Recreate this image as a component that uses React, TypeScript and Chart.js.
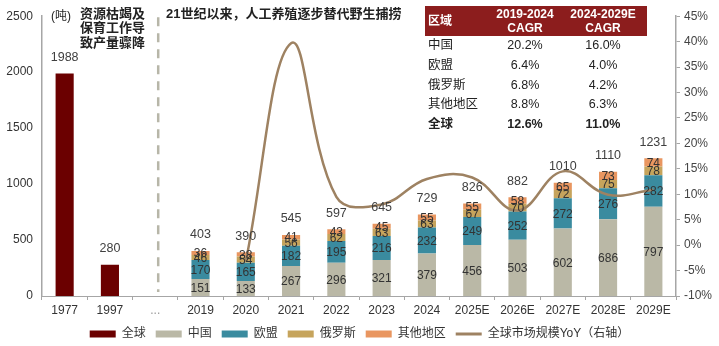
import React, { useEffect, useRef } from 'react';
import { Chart, registerables } from 'chart.js';
Chart.register(...registerables);

const FONT = "Arial, 'Liberation Sans', 'Noto Sans CJK SC', sans-serif";

const CATEGORIES = ['1977', '1997', '...', '2019', '2020', '2021', '2022', '2023', '2024', '2025E', '2026E', '2027E', '2028E', '2029E'];
const GLOBAL_HIST = [1988, 280, null, null, null, null, null, null, null, null, null, null, null, null];
const CHINA = [null, null, null, 151, 133, 267, 296, 321, 379, 456, 503, 602, 686, 797];
const EU = [null, null, null, 170, 165, 182, 195, 216, 232, 249, 252, 272, 276, 282];
const RUSSIA = [null, null, null, 46, 54, 56, 62, 63, 63, 67, 70, 72, 75, 78];
const OTHER = [null, null, null, 36, 38, 41, 43, 45, 55, 55, 58, 65, 73, 74];
const TOTALS = [1988, 280, null, 403, 390, 545, 597, 645, 729, 826, 882, 1010, 1110, 1231];
const YOY = [null, null, null, null, -3.2, 39.7, 9.5, 8.0, 13.0, 13.3, 6.8, 14.5, 9.9, 10.9];

const SERIES_NAMES = ['全球', '中国', '欧盟', '俄罗斯', '其他地区', '全球市场规模YoY（右轴）'];

const TABLE_HEAD = ['区域', '2019-2024', '2024-2029E'];
const TABLE_SUB = ['', 'CAGR', 'CAGR'];
const TABLE_REGIONS = ['中国', '欧盟', '俄罗斯', '其他地区', '全球'];
const CAGR_19_24 = ['20.2%', '6.4%', '6.8%', '8.8%', '12.6%'];
const CAGR_24_29 = ['16.0%', '4.0%', '4.2%', '6.3%', '11.0%'];

const NOTE_UNIT = '(吨)';
const NOTE_LEFT = ['资源枯竭及', '保育工作导', '致产量骤降'];
const NOTE_RIGHT = '21世纪以来，人工养殖逐步替代野生捕捞';

const C_GLOBAL = '#6b0000';
const C_CHINA = '#bab8a6';
const C_EU = '#3a8b9f';
const C_RUSSIA = '#c6a45c';
const C_OTHER = '#e99660';
const C_LINE = '#9e8262';

export default function App() {
  const ref = useRef<HTMLCanvasElement>(null);

  useEffect(() => {
    const canvas = ref.current!;

    const overlay = {
      id: 'overlay',
      beforeDatasetsDraw(chart: any) {
        const ctx = chart.ctx;
        const xs = chart.scales.x;
        const area = chart.chartArea;
        const x = xs.getPixelForValue(2) + 3;
        ctx.save();
        ctx.strokeStyle = '#b7b6a8';
        ctx.lineWidth = 2.5;
        ctx.setLineDash([9, 7]);
        ctx.beginPath();
        ctx.moveTo(x, area.top + 1);
        ctx.lineTo(x, area.bottom - 4);
        ctx.stroke();
        ctx.restore();
      },
      afterDatasetsDraw(chart: any) {
        const ctx = chart.ctx;
        ctx.save();
        ctx.textAlign = 'center';
        ctx.textBaseline = 'middle';
        ctx.font = `12px ${FONT}`;
        ctx.fillStyle = '#333333';
        [1, 2, 3, 4].forEach((di) => {
          const meta = chart.getDatasetMeta(di);
          const data = chart.data.datasets[di].data;
          meta.data.forEach((el: any, j: number) => {
            const v = data[j];
            if (v == null) return;
            const p = el.getProps(['x', 'y', 'base'], true);
            ctx.fillText(String(v), p.x, (p.y + p.base) / 2 + 1);
          });
        });
        ctx.font = `12.5px ${FONT}`;
        ctx.fillStyle = '#404040';
        TOTALS.forEach((t, j) => {
          if (t == null) return;
          let top = Infinity;
          let x = 0;
          [0, 1, 2, 3, 4].forEach((di) => {
            if (chart.data.datasets[di].data[j] == null) return;
            const el = chart.getDatasetMeta(di).data[j];
            const p = el.getProps(['x', 'y'], true);
            x = p.x;
            top = Math.min(top, p.y);
          });
          if (top !== Infinity) ctx.fillText(String(t), x, top - 16);
        });
        ctx.restore();
      },
      afterDraw(chart: any) {
        const ctx = chart.ctx;
        ctx.save();
        ctx.fillStyle = '#222222';
        ctx.textBaseline = 'middle';
        ctx.textAlign = 'left';
        ctx.font = `12px ${FONT}`;
        ctx.fillText(NOTE_UNIT, 51, 17);
        ctx.font = `bold 13px ${FONT}`;
        NOTE_LEFT.forEach((s, i) => ctx.fillText(s, 80, 14 + i * 14.5));
        ctx.fillText(NOTE_RIGHT, 166, 14);

        const tx = 425;
        const tw = 222;
        ctx.fillStyle = '#8c1d1d';
        ctx.fillRect(tx, 6, tw, 30);
        const colX = [428, 525, 603];
        ctx.fillStyle = '#ffffff';
        ctx.font = `bold 12px ${FONT}`;
        ctx.textAlign = 'left';
        ctx.fillText(TABLE_HEAD[0], colX[0], 22);
        ctx.textAlign = 'center';
        [1, 2].forEach((c) => {
          ctx.fillText(TABLE_HEAD[c], colX[c], 15);
          ctx.fillText(TABLE_SUB[c], colX[c], 29);
        });
        ctx.fillStyle = '#222222';
        TABLE_REGIONS.forEach((r, i) => {
          const y = 46 + i * 19.6;
          const bold = i === TABLE_REGIONS.length - 1;
          ctx.font = `${bold ? 'bold ' : ''}12.5px ${FONT}`;
          ctx.textAlign = 'left';
          ctx.fillText(r, colX[0], y);
          ctx.textAlign = 'center';
          ctx.fillText(CAGR_19_24[i], colX[1], y);
          ctx.fillText(CAGR_24_29[i], colX[2], y);
        });
        ctx.restore();
      },
    };

    const barCommon = {
      type: 'bar' as const,
      stack: 's',
      order: 1,
      barPercentage: 0.4,
      categoryPercentage: 1,
      yAxisID: 'y',
      borderWidth: 0,
    };

    const chart = new Chart(canvas, {
      type: 'bar',
      data: {
        labels: CATEGORIES,
        datasets: [
          { ...barCommon, label: SERIES_NAMES[0], data: GLOBAL_HIST, backgroundColor: C_GLOBAL },
          { ...barCommon, label: SERIES_NAMES[1], data: CHINA, backgroundColor: C_CHINA },
          { ...barCommon, label: SERIES_NAMES[2], data: EU, backgroundColor: C_EU },
          { ...barCommon, label: SERIES_NAMES[3], data: RUSSIA, backgroundColor: C_RUSSIA },
          { ...barCommon, label: SERIES_NAMES[4], data: OTHER, backgroundColor: C_OTHER },
          {
            type: 'line',
            label: SERIES_NAMES[5],
            data: YOY,
            yAxisID: 'y1',
            order: 0,
            borderColor: C_LINE,
            backgroundColor: C_LINE,
            borderWidth: 2.5,
            tension: 0.4,
            pointRadius: 0,
            pointHoverRadius: 0,
            spanGaps: false,
          } as any,
        ],
      },
      options: {
        responsive: false,
        animation: false,
        devicePixelRatio: 1,
        events: [],
        layout: { padding: { top: 14, bottom: -4, left: 0, right: 0 } },
        font: { family: FONT },
        scales: {
          x: {
            stacked: true,
            offset: true,
            grid: { display: true, drawOnChartArea: false, drawTicks: true, tickLength: 4, color: '#a6a6a6', offset: true },
            border: { display: true, color: '#a6a6a6', width: 1 },
            ticks: {
              padding: 3,
              maxRotation: 0,
              autoSkip: false,
              font: { family: FONT, size: 12 },
              color: (c: any) => (c.index === 2 ? '#999999' : '#333333'),
            },
            afterFit: (s: any) => { s.height = 22; },
          },
          y: {
            stacked: true,
            position: 'left',
            min: 0,
            max: 2500,
            grid: { display: false, drawTicks: false, tickLength: 0 },
            border: { display: true, color: '#a6a6a6', width: 1.5 },
            ticks: {
              stepSize: 500,
              padding: 9,
              font: { family: FONT, size: 12 },
              color: '#333333',
              callback: (v: any) => String(v),
            },
            afterFit: (s: any) => { s.width = 42; },
          },
          y1: {
            position: 'right',
            min: -10,
            max: 45,
            grid: { display: true, drawOnChartArea: false, drawTicks: true, tickLength: 4, color: '#a6a6a6' },
            border: { display: true, color: '#a6a6a6', width: 1.5 },
            ticks: {
              stepSize: 5,
              padding: 4,
              font: { family: FONT, size: 12 },
              color: '#444444',
              callback: (v: any) => `${v}%`,
            },
            afterFit: (s: any) => { s.width = 43; },
          },
        },
        plugins: {
          tooltip: { enabled: false },
          legend: {
            position: 'bottom',
            labels: {
              usePointStyle: true,
              pointStyleWidth: 26,
              boxHeight: 7,
              padding: 10,
              color: '#333333',
              font: { family: FONT, size: 12 },
              generateLabels: (ch: any) => {
                const items = (Chart.defaults.plugins.legend.labels as any).generateLabels(ch);
                items.sort((a: any, b: any) => a.datasetIndex - b.datasetIndex);
                return items.map((it: any) => {
                  const ds: any = ch.data.datasets[it.datasetIndex];
                  const isLine = ds.type === 'line';
                  return {
                    ...it,
                    pointStyle: isLine ? 'line' : 'rect',
                    lineWidth: isLine ? 3 : 0,
                    strokeStyle: isLine ? C_LINE : ds.backgroundColor,
                    fillStyle: ds.backgroundColor,
                  };
                });
              },
            },
          },
        },
      } as any,
      plugins: [overlay],
    });

    return () => chart.destroy();
  }, []);

  return (
    <div style={{ position: 'fixed', left: 0, top: 0, width: 719, height: 346, background: '#ffffff' }}>
      <canvas ref={ref} width={719} height={346} style={{ width: 719, height: 346, display: 'block' }} />
    </div>
  );
}
